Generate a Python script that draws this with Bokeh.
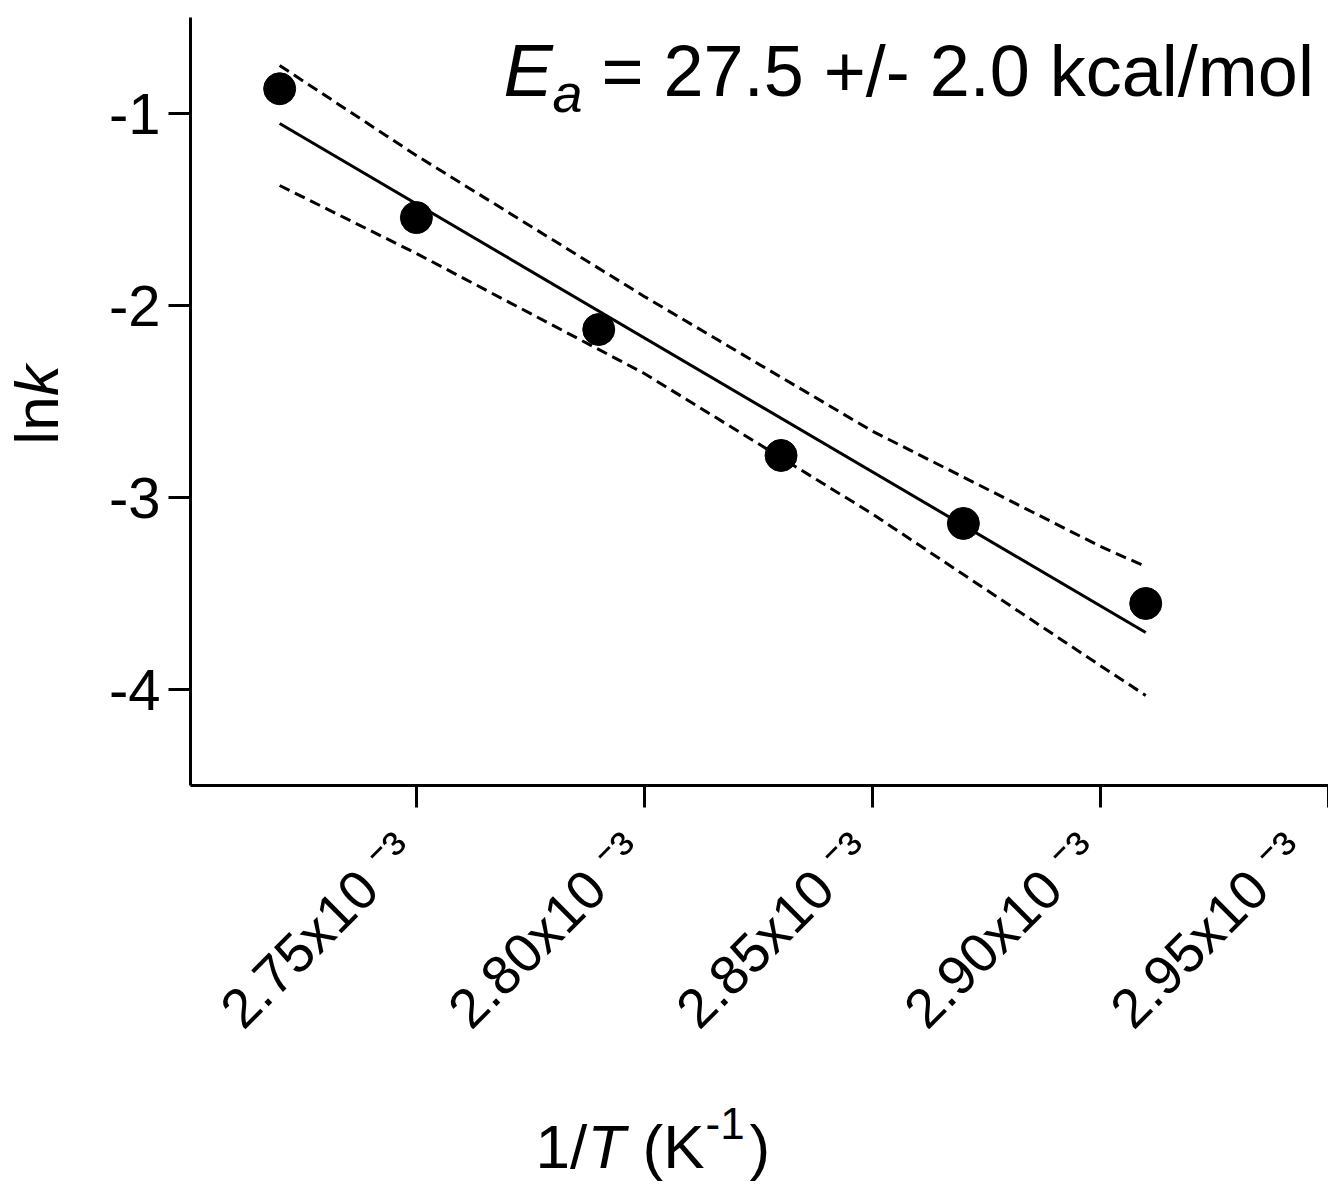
import math
from bokeh.plotting import figure
from bokeh.models import Label, FixedTicker, Range1d
from bokeh.layouts import row, column
from bokeh.core.properties import value
from bokeh.embed import file_html
from bokeh.resources import INLINE

# ---- data ----
x_pts = [2.720e-3, 2.750e-3, 2.790e-3, 2.830e-3, 2.870e-3, 2.910e-3]
y_pts = [-0.871, -1.542, -2.125, -2.781, -3.135, -3.552]

x_fit = [2.720e-3, 2.910e-3]
y_fit = [-1.052, -3.703]

x_band = [2.720e-3, 2.750e-3, 2.800e-3, 2.850e-3, 2.900e-3, 2.910e-3]
y_upper = [-0.750, -1.219, -1.953, -2.654, -3.254, -3.360]
y_lower = [-1.375, -1.729, -2.354, -3.085, -3.875, -4.031]

x_ticks = [2.75e-3, 2.80e-3, 2.85e-3, 2.90e-3, 2.95e-3]
x_tick_labels = ["2.75x10 \u207b\u00b3", "2.80x10 \u207b\u00b3", "2.85x10 \u207b\u00b3",
                 "2.90x10 \u207b\u00b3", "2.95x10 \u207b\u00b3"]
y_ticks = [-1, -2, -3, -4]
y_tick_labels = ["-1", "-2", "-3", "-4"]

FONT = "Liberation Sans"
PAD = "\u00a0"
BASE = 0.38  # Bokeh's alphabetic anchor sits this fraction of the size above the baseline

W, H = 1328, 1184
LEFT_W = 90
TOP_H = 1090
MAIN_W = W - LEFT_W
BOT_H = H - TOP_H
FRAME_TOP, FRAME_BOTTOM = 17, 785  # page y of the plot frame

p = figure(width=MAIN_W, height=TOP_H, output_backend="svg", toolbar_location=None,
           x_range=Range1d(2.70044e-3, 2.9501e-3), y_range=Range1d(-4.5, -0.5),
           min_border_left=190 - LEFT_W, min_border_right=0, min_border_top=FRAME_TOP,
           min_border_bottom=TOP_H - FRAME_BOTTOM)
p.outline_line_color = None
p.xgrid.visible = False
p.ygrid.visible = False

for ax in (p.xaxis[0], p.yaxis[0]):
    ax.axis_line_width = 3
    ax.axis_line_color = "black"
    ax.major_tick_line_width = 3
    ax.major_tick_line_color = "black"
    ax.major_tick_out = 22
    ax.major_tick_in = 0
    ax.minor_tick_line_color = None
    ax.major_label_text_font = FONT
    ax.major_label_text_color = "black"
    ax.axis_label = None

p.xaxis.major_label_text_font_size = "55px"
p.yaxis.major_label_text_font_size = "58px"

p.xaxis.ticker = FixedTicker(ticks=x_ticks)
p.xaxis.major_label_overrides = {v: t + PAD for v, t in zip(x_ticks, x_tick_labels)}
p.xaxis.major_label_orientation = math.pi / 4
p.xaxis.major_label_standoff = 24

p.yaxis.ticker = FixedTicker(ticks=y_ticks)
p.yaxis.major_label_overrides = {v: t for v, t in zip(y_ticks, y_tick_labels)}
p.yaxis.major_label_standoff = 8

# confidence bands and fit
p.line(x_band, y_upper, line_color="black", line_width=3, line_dash="11 6")
p.line(x_band, y_lower, line_color="black", line_width=3, line_dash="11 6")
p.line(x_fit, y_fit, line_color="black", line_width=3)
p.scatter(x_pts, y_pts, size=32, marker="circle", fill_color="black", line_color="black")

def lab(text, px, py, size, italic=False):
    """Label inside the frame; px, py = page position of the text start on its baseline."""
    p.add_layout(Label(x=px - 190, y=FRAME_BOTTOM - (py - BASE * size), x_units="screen", y_units="screen",
                       text=text, text_font=FONT, text_font_size=f"{size}px",
                       text_font_style="italic" if italic else "normal",
                       text_color="black", text_align="left", text_baseline="alphabetic"))

lab("E", 503, 98, 74, italic=True)
lab("a", 552, 113, 54, italic=True)
lab("= 27.5 +/- 2.0 kcal/mol", 601, 98, 72)

def blank(w, h, y_lo, y_hi):
    f = figure(width=w, height=h, output_backend="svg", toolbar_location=None,
               x_range=Range1d(0, w), y_range=Range1d(y_lo, y_hi),
               x_axis_location=None, y_axis_location=None,
               min_border_left=0, min_border_right=0, min_border_top=0, min_border_bottom=0)
    f.outline_line_color = None
    f.xgrid.visible = False
    f.ygrid.visible = False
    return f

# y axis title "ln k" (rotated). The row aligns this figure's frame with the plot frame
# (page y 17..785), so the range is set so that data y = TOP_H - page y.
fl = blank(LEFT_W, TOP_H, TOP_H - FRAME_BOTTOM, TOP_H - FRAME_TOP)
def ylab(text, cx, cy, size, italic=False):
    fl.text(x=[cx], y=[TOP_H - cy], text=[text], angle=math.pi / 2,
            text_font=value(FONT), text_font_size=f"{size}px",
            text_font_style="italic" if italic else "normal",
            text_color="black", text_align="center", text_baseline="middle")
ylab("ln", 36, 420, 62)
ylab("k", 36, 380, 62, italic=True)

# x axis title "1/T (K^-1)", page y 1090..1184
fb = blank(W, BOT_H, 0, BOT_H)
def xlab(text, px, py, size, italic=False):
    fb.text(x=[px], y=[H - (py - BASE * size)], text=[text],
            text_font=value(FONT), text_font_size=f"{size}px",
            text_font_style="italic" if italic else "normal",
            text_color="black", text_align="left", text_baseline="alphabetic")
xlab("1/", 535, 1170, 62)
xlab("T", 587, 1170, 62, italic=True)
xlab("(K", 642, 1170, 62)
xlab("-1", 705, 1140, 44)
xlab(")", 749, 1170, 62)

layout = column(row(fl, p), fb)
open("out.html", "w").write(file_html(layout, INLINE))
